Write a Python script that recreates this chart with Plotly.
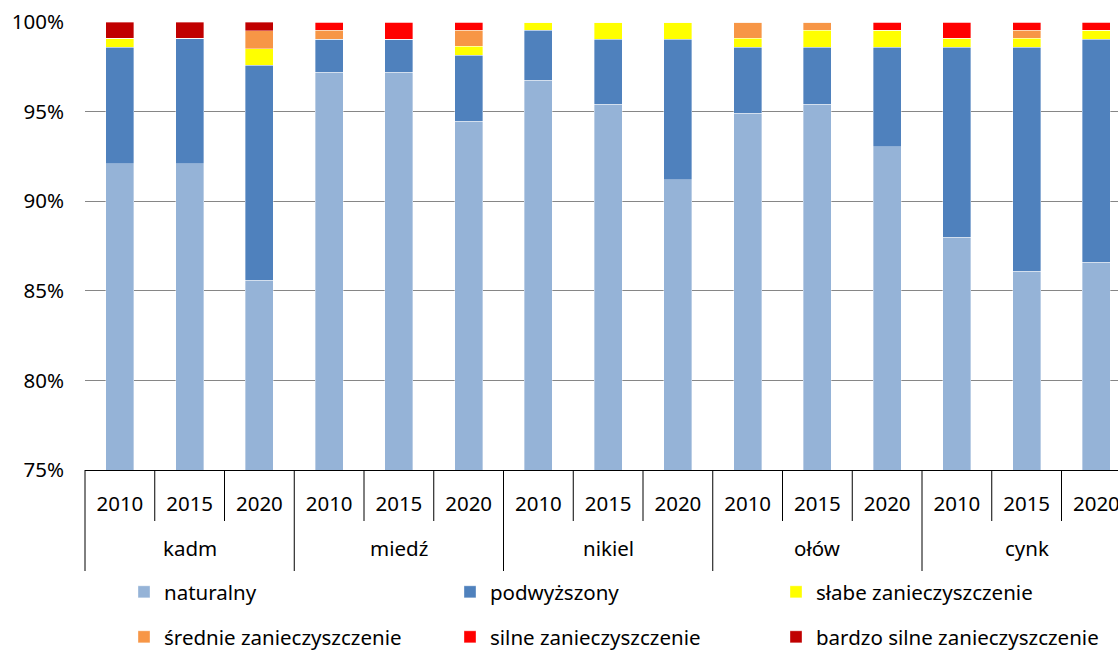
import plotly.graph_objects as go

# ---------------- data ----------------
metals = ["kadm", "miedź", "nikiel", "ołów", "cynk"]
years = ["2010", "2015", "2020"]

naturalny = [92.1, 92.1, 85.6, 97.2, 97.2, 94.45, 96.75, 95.4, 91.2, 94.9, 95.4, 93.05, 88.0, 86.1, 86.6]
podwyzszony = [6.5, 7.0, 12.0, 1.85, 1.85, 3.7, 2.8, 3.65, 7.85, 3.7, 3.2, 5.55, 10.6, 12.5, 12.45]
slabe = [0.5, 0.0, 0.9, 0.0, 0.0, 0.5, 0.45, 0.95, 0.95, 0.5, 0.95, 0.95, 0.5, 0.5, 0.5]
srednie = [0.0, 0.0, 1.0, 0.5, 0.0, 0.9, 0.0, 0.0, 0.0, 0.9, 0.45, 0.0, 0.0, 0.45, 0.0]
silne = [0.0, 0.0, 0.0, 0.45, 0.95, 0.45, 0.0, 0.0, 0.0, 0.0, 0.0, 0.45, 0.9, 0.45, 0.45]
bardzo_silne = [0.9, 0.9, 0.5, 0.0, 0.0, 0.0, 0.0, 0.0, 0.0, 0.0, 0.0, 0.0, 0.0, 0.0, 0.0]

series_names = ["naturalny", "podwyższony", "słabe zanieczyszczenie",
                "średnie zanieczyszczenie", "silne zanieczyszczenie",
                "bardzo silne zanieczyszczenie"]
series_values = [naturalny, podwyzszony, slabe, srednie, silne, bardzo_silne]
series_colors = ["#95B3D7", "#4F81BD", "#FFFF00", "#F79646", "#FF0000", "#C00000"]

y_ticks = [75, 80, 85, 90, 95, 100]

# ---------------- layout constants ----------------
W, H = 1118, 650
ML, MT = 85, 22
PLOT_W = W - ML            # plot reaches right edge (original is cut off)
PLOT_H = 448
MB = H - MT - PLOT_H
CAT_PX = 69.75             # width of one category in px
n = len(metals) * len(years)
x_min = -0.5
x_max = x_min + PLOT_W / CAT_PX

FONT = "Noto Sans"
FS = 20.5
TXT = "#000000"

x_idx = list(range(n))
year_labels = [y for m in metals for y in years]

fig = go.Figure()
for i, (name, vals, col) in enumerate(zip(series_names, series_values, series_colors)):
    fig.add_trace(go.Bar(
        x=x_idx, y=vals, name=name,
        marker=dict(color=col, line=dict(color="rgba(255,255,255,0.6)", width=0.6)),
        legend="legend" if i < 3 else "legend2",
        hovertemplate="%{y:.2f}%<extra>" + name + "</extra>",
    ))

def px_to_paper_y(py):
    return (MT + PLOT_H - py) / PLOT_H

def idx_to_paper_x(v):
    return (v - x_min) / (x_max - x_min)

shapes = []
# category divider lines below the axis
for b in range(n + 1):
    pos = b - 0.5
    xp = idx_to_paper_x(pos)
    if xp > 1.0005:
        continue
    major = (b % len(years) == 0)
    y_end = 571 if major else 521
    shapes.append(dict(type="line", xref="paper", yref="paper",
                       x0=xp, x1=xp, y0=px_to_paper_y(470), y1=px_to_paper_y(y_end),
                       line=dict(color="#000000", width=1)))

annotations = []
for g, m in enumerate(metals):
    center = g * len(years) + (len(years) - 1) / 2
    annotations.append(dict(x=center, xref="x", y=px_to_paper_y(548), yref="paper",
                            text=m, showarrow=False, xanchor="center", yanchor="middle",
                            font=dict(family=FONT, size=FS, color=TXT)))

LEG_X = (124 - ML) / PLOT_W
fig.update_layout(
    width=W, height=H,
    margin=dict(l=ML, r=W - ML - PLOT_W, t=MT, b=MB, autoexpand=False),
    paper_bgcolor="white", plot_bgcolor="white",
    barmode="stack", bargap=0.6,
    font=dict(family=FONT, size=FS, color=TXT),
    xaxis=dict(range=[x_min, x_max], tickmode="array", tickvals=x_idx, ticktext=year_labels,
               showgrid=False, zeroline=False, showline=True, linecolor="#000000", linewidth=1,
               ticks="", ticklabelstandoff=15, ticklabeloverflow="allow",
               tickfont=dict(family=FONT, size=FS, color=TXT)),
    yaxis=dict(range=[75, 100], tickmode="array", tickvals=y_ticks,
               ticktext=[f"{v}%" for v in y_ticks],
               showgrid=True, gridcolor="#868686", gridwidth=1, zeroline=False,
               showline=False, ticks="", ticklabelstandoff=20,
               tickfont=dict(family=FONT, size=FS, color=TXT)),
    legend=dict(orientation="h", x=LEG_X, xanchor="left",
                y=px_to_paper_y(592), yanchor="middle", traceorder="normal",
                entrywidth=281, entrywidthmode="pixels",
                font=dict(family=FONT, size=FS, color=TXT), bgcolor="rgba(0,0,0,0)"),
    legend2=dict(orientation="h", x=LEG_X, xanchor="left",
                 y=px_to_paper_y(637), yanchor="middle", traceorder="normal",
                 entrywidth=281, entrywidthmode="pixels",
                 font=dict(family=FONT, size=FS, color=TXT), bgcolor="rgba(0,0,0,0)"),
    shapes=shapes,
    annotations=annotations,
)

fig.write_html("out.html", config={"displayModeBar": False},
               post_script="document.body.style.margin='0';")
